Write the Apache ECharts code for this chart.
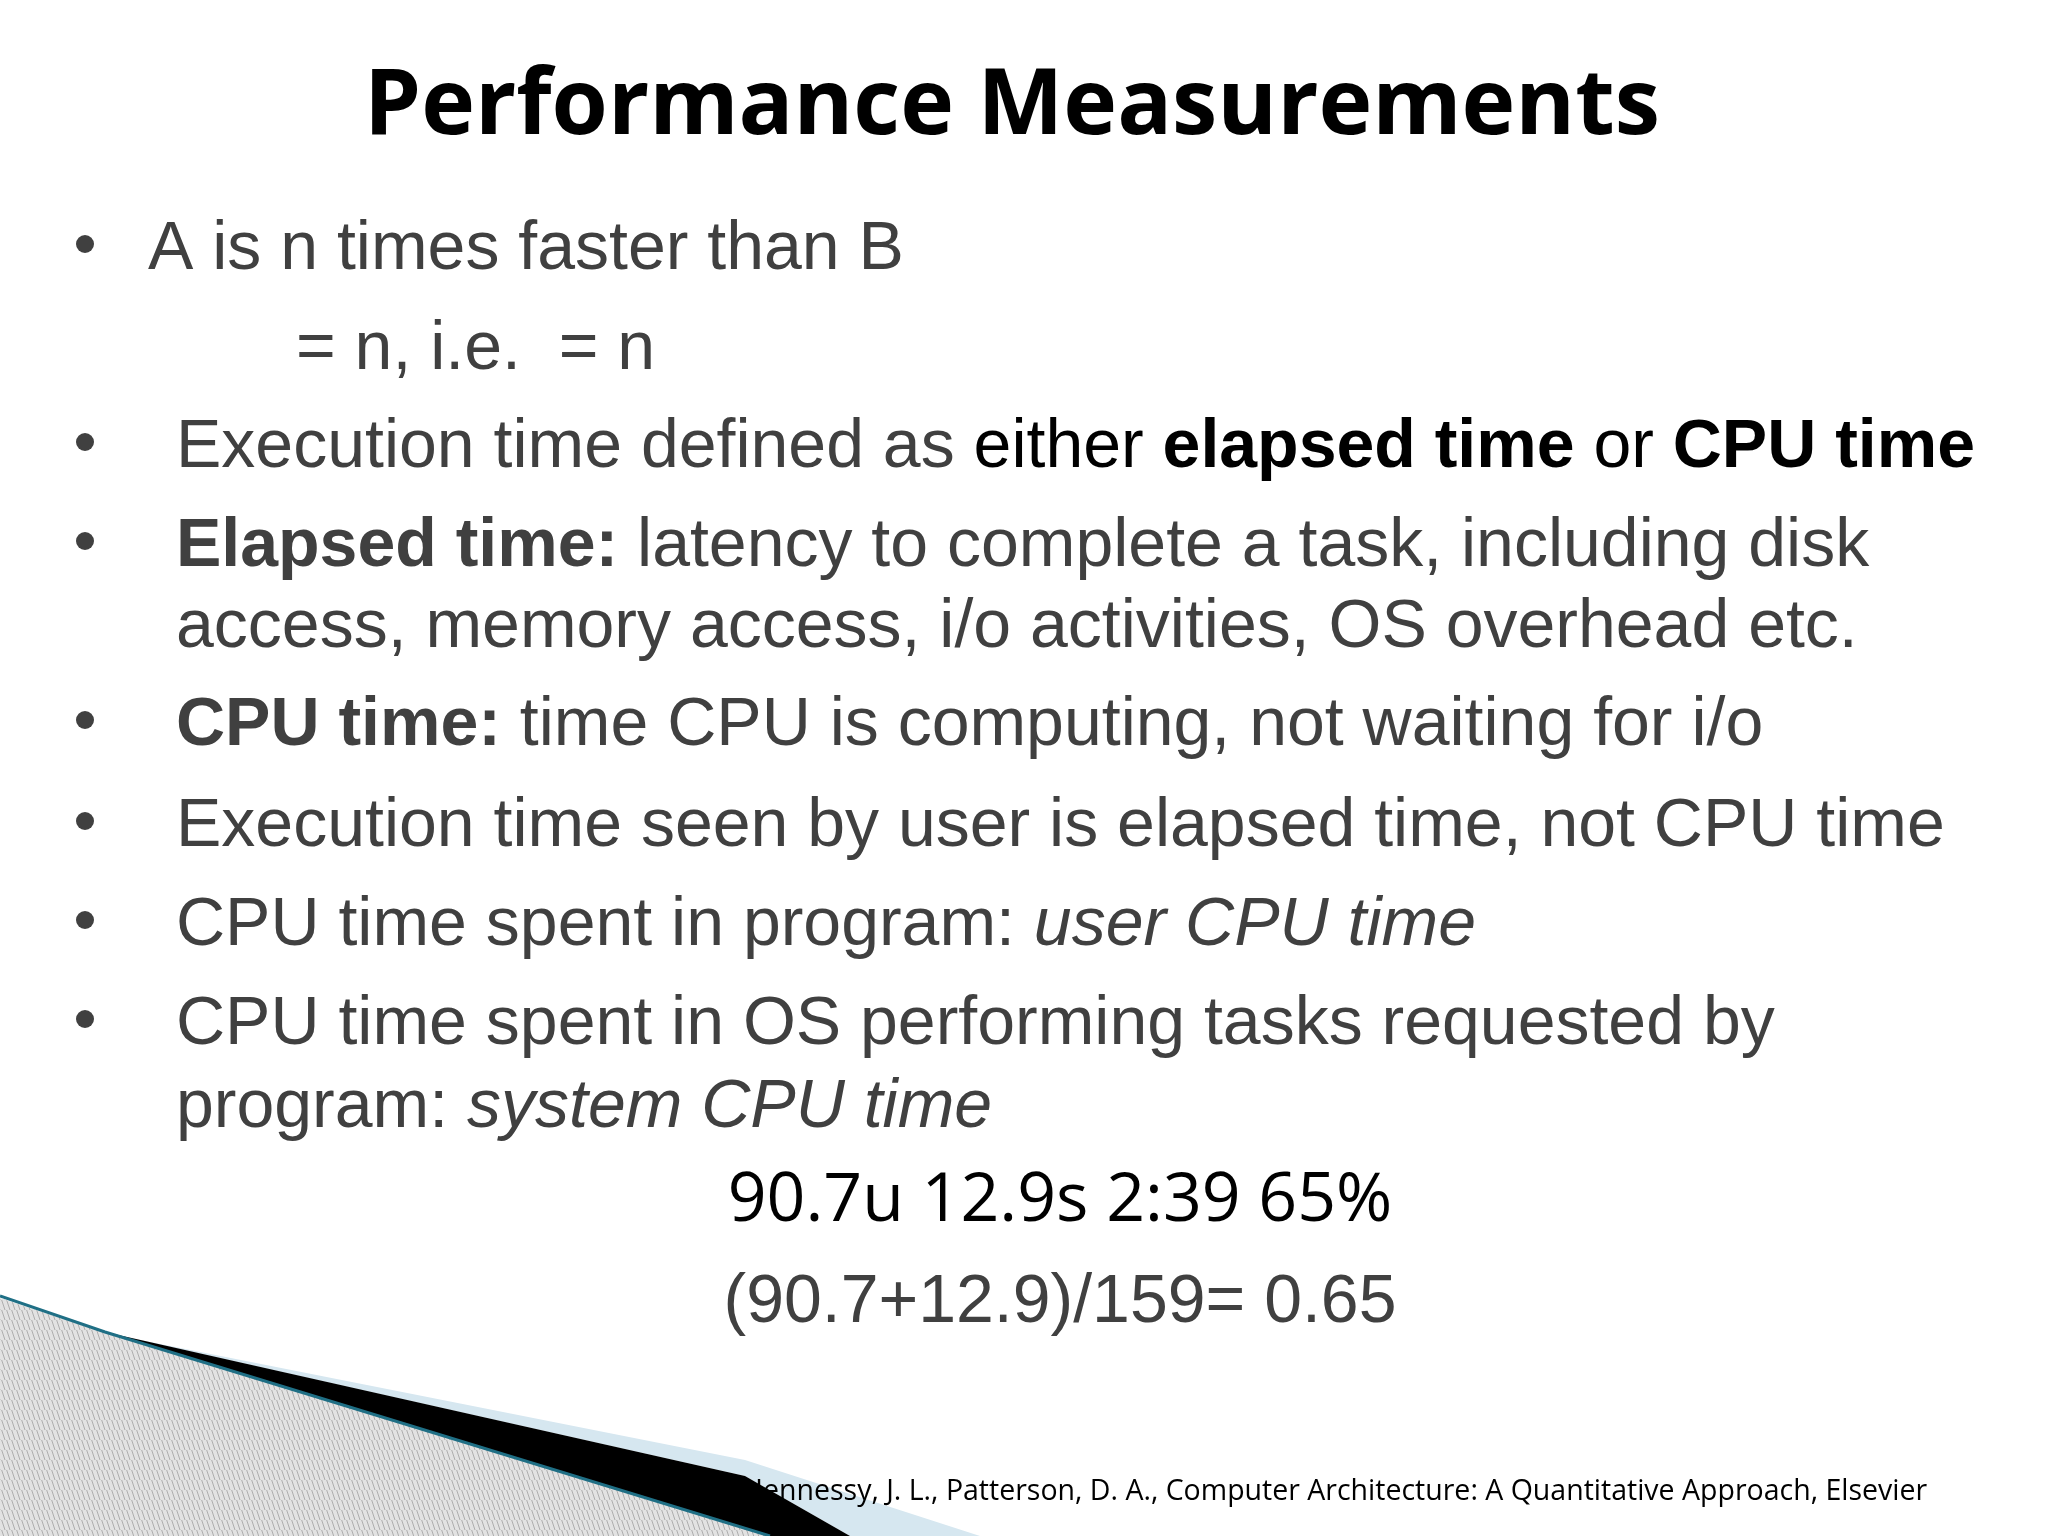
<!DOCTYPE html>
<html><head><meta charset="utf-8">
<script src="https://cdn.jsdelivr.net/npm/echarts@6/dist/echarts.min.js"></script>
<style>html,body{margin:0;padding:0;background:#fff}#main{width:2048px;height:1536px}</style>
</head><body><div id="main"></div>
<script>
// slide text, rich-text markup per line
let titleText='Performance Measurements';
let bulletLines=[
    '{g|A is n times faster than B}',
    '{g|= n, i.e.  = n}',
    '{g|Execution time defined as }{k|either }{kb|elapsed time}{k| or }{kb|CPU time}',
    '{gb|Elapsed time:}{g| latency to complete a task, including disk}',
    '{g|access, memory access, i/o activities, OS overhead etc.}',
    '{gb|CPU time:}{g| time CPU is computing, not waiting for i/o}',
    '{g|Execution time seen by user is elapsed time, not CPU time}',
    '{g|CPU time spent in program: }{gi|user CPU time}',
    '{g|CPU time spent in OS performing tasks requested by}',
    '{g|program: }{gi|system CPU time}'
];
let hasBullet=[true,false,true,true,false,true,true,true,true,false];
let lineX=[148,296,176,176,176,176,176,176,176,176];
let lineY=[250,350,448,547,628,726,827,926,1025,1108];
let formula1='90.7u 12.9s 2:39 65%';
let formula2='(90.7+12.9)/159= 0.65';
let citation='Hennessy, J. L., Patterson, D. A., Computer Architecture: A Quantitative Approach, Elsevier';

let chart=echarts.init(document.getElementById('main'));
let gray='#404040';
let body='"Liberation Sans", Arial, sans-serif';
let fs=68;
let rich={
    g:{fill:gray,fontFamily:body,fontSize:fs},
    gb:{fill:gray,fontFamily:body,fontSize:fs,fontWeight:'bold'},
    gi:{fill:gray,fontFamily:body,fontSize:fs,fontStyle:'italic'},
    k:{fill:'#000',fontFamily:body,fontSize:fs},
    kb:{fill:'#000',fontFamily:body,fontSize:fs,fontWeight:'bold'}
};
// hatch pattern for the corner decoration
let pc=document.createElement('canvas');pc.width=10;pc.height=10;
let pctx=pc.getContext('2d');
pctx.fillStyle='#e2e2e2';pctx.fillRect(0,0,10,10);
pctx.strokeStyle='#a0a0a0';pctx.lineWidth=0.8;
pctx.beginPath();pctx.moveTo(0,-5);pctx.lineTo(5,10);pctx.moveTo(5,-5);pctx.lineTo(10,10);pctx.moveTo(-5,-5);pctx.lineTo(0,10);pctx.stroke();

let elements=[];
elements.push({type:'polygon',shape:{points:[[130,1338],[745,1460],[980,1536],[850,1536],[745,1476]]},style:{fill:'#d6e7f0'}});
elements.push({type:'polygon',shape:{points:[[0,1298],[105,1333],[770,1536],[0,1536]]},style:{fill:{image:pc,repeat:'repeat'}}});
elements.push({type:'polygon',shape:{points:[[105,1332],[745,1476],[850,1536],[770,1536]]},style:{fill:'#000'}});
elements.push({type:'polyline',shape:{points:[[0,1296],[105,1332],[770,1536]]},style:{stroke:'#1f6f85',lineWidth:3,fill:null}});
elements.push({type:'text',x:1012,y:108,style:{text:titleText,fontFamily:'"Open Sans", sans-serif',fontWeight:'bold',fontSize:91,fill:'#000',textAlign:'center',textVerticalAlign:'middle'}});
for(let i=0;i<bulletLines.length;i++){
    if(hasBullet[i]) elements.push({type:'circle',shape:{cx:85,cy:lineY[i]-6,r:9},style:{fill:gray}});
    elements.push({type:'text',x:lineX[i],y:lineY[i],style:{text:bulletLines[i],rich:rich,textVerticalAlign:'middle',verticalAlign:'middle'}});
}
elements.push({type:'text',x:1060,y:1202,style:{text:formula1,fontFamily:'"Open Sans", sans-serif',fontSize:68,fill:'#000',textAlign:'center',textVerticalAlign:'middle'}});
elements.push({type:'text',x:1060,y:1303,style:{text:formula2,fontFamily:body,fontSize:68,fill:gray,textAlign:'center',textVerticalAlign:'middle'}});
elements.push({type:'text',x:742,y:1492,style:{text:citation,fontFamily:'"Open Sans", sans-serif',fontSize:28.5,fill:'#000',textVerticalAlign:'middle'}});

chart.setOption({animation:false,graphic:{elements:elements}});
</script></body></html>
